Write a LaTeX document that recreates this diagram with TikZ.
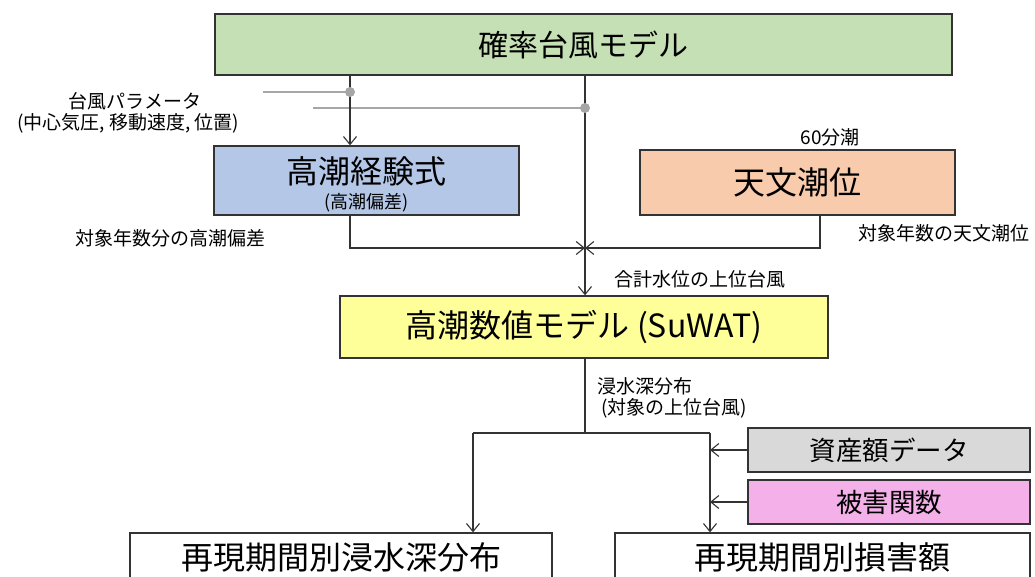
\documentclass[tikz,border=0pt]{standalone}
\usepackage{fontspec}
\setmainfont{Noto Sans CJK JP}
\usetikzlibrary{arrows.meta}
\definecolor{cgreen}{HTML}{C5E0B4}
\definecolor{cblue}{HTML}{B4C7E7}
\definecolor{corange}{HTML}{F8CBAD}
\definecolor{cyellow}{HTML}{FFFF99}
\definecolor{cgray}{HTML}{D9D9D9}
\definecolor{cpink}{HTML}{F4B0E8}
\definecolor{cline}{HTML}{333333}
\definecolor{cparam}{HTML}{A6A6A6}
\tikzset{
  box/.style={draw=cline, line width=1.3pt, inner sep=0pt, align=center},
  conn/.style={draw=cline, line width=1.1pt},
  arr/.style={conn, -{Straight Barb[length=8pt,width=13pt,line width=1.1pt]}},
  pline/.style={draw=cparam, line width=1.1pt},
  pdot/.style={circle, fill=cparam, inner sep=0pt, minimum size=10pt},
  lbl/.style={inner sep=0pt, font=\fontsize{19}{22}\selectfont},
  big/.style={font=\fontsize{32}{36}\selectfont},
  mid/.style={font=\fontsize{26.5}{30}\selectfont},
}
\begin{document}
\begin{tikzpicture}[x=1pt,y=-1pt]
\useasboundingbox (0,0) rectangle (1035,576);
% boxes
\node[box, font=\fontsize{30}{34}\selectfont, fill=cgreen, minimum width=737pt, minimum height=61pt] (model) at (583.5,44.5) {確率台風モデル};
\node[box, fill=cblue, minimum width=305pt, minimum height=69pt] (emp) at (366.5,180.5) {};
\node[big, inner sep=0pt] (empt) at (366.5,171) {高潮経験式};
\node[inner sep=0pt, font=\fontsize{18}{20}\selectfont] (emps) at (366.5,203) {(高潮偏差)};
\node[box, big, fill=corange, minimum width=315pt, minimum height=65pt] (tide) at (797.5,182.5) {天文潮位};
\node[box, big, fill=cyellow, minimum width=488pt, minimum height=62pt] (suwat) at (584,327) {高潮数値モデル (SuWAT)};
\node[box, mid, fill=cgray, minimum width=282pt, minimum height=44pt] (asset) at (889,450) {資産額データ};
\node[box, mid, fill=cpink, minimum width=282pt, minimum height=44pt] (dmg) at (889,502) {被害関数};
\node[box, big, fill=white, minimum width=422pt, minimum height=48pt] (outl) at (341,557) {再現期間別浸水深分布};
\node[box, big, fill=white, minimum width=415pt, minimum height=48pt] (outr) at (822.5,557) {再現期間別損害額};
% parameter lines
\coordinate (p1) at (350,92);
\coordinate (p2) at (585,108);
\coordinate (p1s) at (263,92);
\coordinate (p2s) at (313,108);
\draw[pline] (p1s) -- (p1);
\draw[pline] (p2s) -- (p2);
% connectors
\draw[arr] (model.south -| p1) -- (emp.north -| p1);
\draw[arr] (model.south -| p2) -- (suwat.north -| p2);
\node[pdot] at (p1) {};
\node[pdot] at (p2) {};
\coordinate (j) at (585,248);
\draw[arr] (emp.south -| 350,0) |- (j);
\draw[arr] (tide.south -| 820,0) |- (j);
\coordinate (s) at (585,433);
\coordinate (sl) at (473,433);
\coordinate (sr) at (710,433);
\draw[conn] (suwat.south -| s) -- (s);
\draw[conn] (sl) -- (sr);
\draw[arr] (sl) -- (outl.north -| sl);
\draw[arr] (sr) -- (outr.north -| sr);
\draw[arr] (asset.west) -- (asset.west -| sr);
\draw[arr] (dmg.west) -- (dmg.west -| sr);
% labels
\node[lbl] (lp1) at (135,101) {台風パラメータ};
\node[lbl] (lp2) at (128,123) {(中心気圧, 移動速度, 位置)};
\node[lbl] (l60) at (830,137) {60分潮};
\node[lbl] (lsurge) at (170,238) {対象年数分の高潮偏差};
\node[lbl] (ltide) at (944,233) {対象年数の天文潮位};
\node[lbl] (ltop) at (700,279) {合計水位の上位台風};
\node[lbl, anchor=west] (ld1) at (597,386) {浸水深分布};
\node[lbl, anchor=west] (ld2) at (601,408) {(対象の上位台風)};
\end{tikzpicture}
\end{document}
